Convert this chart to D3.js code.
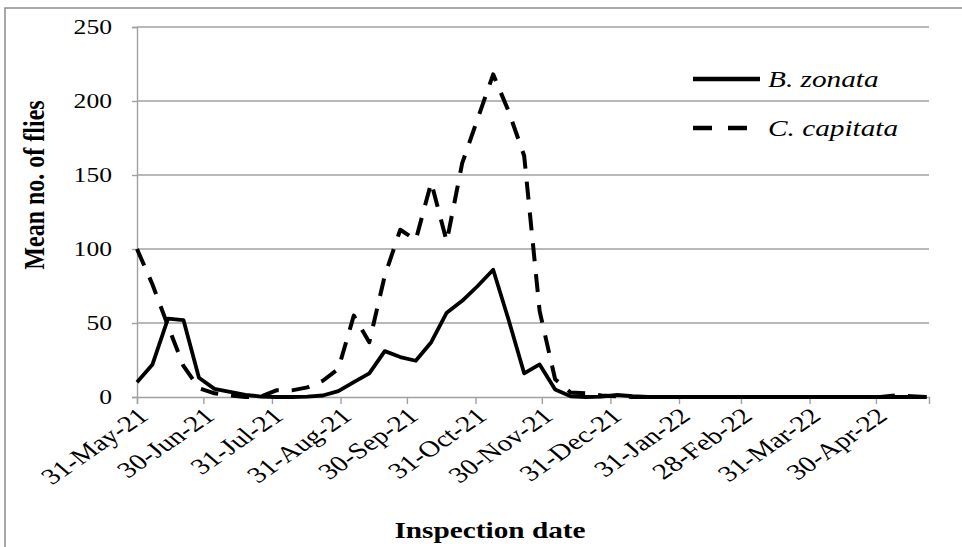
<!DOCTYPE html>
<html>
<head>
<meta charset="utf-8">
<script src="https://cdn.jsdelivr.net/npm/d3@7"></script>
<style>
  html, body { margin: 0; padding: 0; background: #fff; }
  svg { display: block; }
  text { font-family: "Liberation Serif", "Times New Roman", serif; fill: #000; }
</style>
</head>
<body>
<svg id="chart" width="962" height="547"></svg>
<script>
// ---- data ----
const inspectionDates = [
  "2021-05-31","2021-06-07","2021-06-14","2021-06-21","2021-06-28","2021-07-05","2021-07-12","2021-07-19",
  "2021-07-26","2021-08-02","2021-08-09","2021-08-16","2021-08-23","2021-08-30","2021-09-06","2021-09-13",
  "2021-09-20","2021-09-27","2021-10-04","2021-10-11","2021-10-18","2021-10-25","2021-11-01","2021-11-08",
  "2021-11-15","2021-11-22","2021-11-29","2021-12-06","2021-12-13","2021-12-20","2021-12-27","2022-01-03",
  "2022-01-10","2022-01-17","2022-01-24","2022-01-31","2022-02-07","2022-02-14","2022-02-21","2022-02-28",
  "2022-03-07","2022-03-14","2022-03-21","2022-03-28","2022-04-04","2022-04-11","2022-04-18","2022-04-25",
  "2022-05-02","2022-05-09","2022-05-16","2022-05-23"
];
const bZonata = [
  10, 22, 53, 52, 13, 5.5, 3.5, 1.5, 0.3, 0, 0, 0.3, 1, 4, 10, 16,
  31, 27, 24.5, 37, 57, 65, 75, 86, 52, 16, 22, 5, 0.5, 0, 0.3, 1.5,
  0.5, 0, 0, 0, 0, 0, 0, 0, 0, 0, 0, 0, 0, 0, 0, 0,
  0, 0, 0, 0
];
const cCapitata = [
  100, 76, 48, 21, 6, 2.5, 1, 0, 0.3, 4.5, 4.5, 6.5, 11, 19, 55, 37,
  82, 113, 106, 145, 105, 158, 188, 218, 193, 163, 58, 12, 3, 2.5, 1, 0.5,
  0, 0, 0, 0, 0, 0, 0, 0, 0, 0, 0, 0, 0, 0, 0, 0,
  0, 1, 0.5, 0
];
const xTickDates = ["2021-05-31","2021-06-30","2021-07-31","2021-08-31","2021-09-30","2021-10-31",
  "2021-11-30","2021-12-31","2022-01-31","2022-02-28","2022-03-31","2022-04-30"];
const yTicks = [0, 50, 100, 150, 200, 250];
const seriesNames = ["B. zonata", "C. capitata"];
const xTitle = "Inspection date";
const yTitle = "Mean no. of flies";

// ---- layout ----
const SX = 1.22; // horizontal text stretch of the original figure
const parse = d3.timeParse("%Y-%m-%d");
const fmt = d3.timeFormat("%d-%b-%y");
const svg = d3.select("#chart");

const x = d3.scaleTime()
  .domain([parse("2021-05-31"), parse("2022-05-24")])
  .range([137, 929]);
const y = d3.scaleLinear().domain([0, 250]).range([397, 27]);

// outer border
svg.append("path")
  .attr("d", "M5,547 L5,8 L962,8")
  .attr("fill", "none").attr("stroke", "#8c8c8c").attr("stroke-width", 1.5);

// gridlines
svg.append("g").selectAll("line").data(yTicks.filter(d => d > 0)).join("line")
  .attr("x1", x.range()[0]).attr("x2", x.range()[1])
  .attr("y1", d => y(d)).attr("y2", d => y(d))
  .attr("stroke", "#a0a0a0").attr("stroke-width", 1.4);

// y axis
const yAxis = svg.append("g").attr("transform", `translate(${x.range()[0]},0)`)
  .call(d3.axisLeft(y).tickValues(yTicks).tickSize(5).tickFormat(d3.format("d")));
yAxis.select(".domain").attr("stroke", "#a0a0a0").attr("stroke-width", 1.4);
yAxis.selectAll(".tick line").attr("stroke", "#a0a0a0").attr("stroke-width", 1.4);
yAxis.selectAll(".tick text").remove();
svg.append("g").selectAll("text").data(yTicks).join("text")
  .attr("transform", d => `translate(112,${y(d)}) scale(${SX},1)`)
  .attr("text-anchor", "end").attr("dy", "0.35em")
  .style("font-size", "21px")
  .text(d => d);

// x axis
const xAxis = svg.append("g").attr("transform", `translate(0,${y(0)})`)
  .call(d3.axisBottom(x).tickValues(xTickDates.map(parse)).tickSize(7).tickFormat(""));
xAxis.select(".domain").attr("stroke", "#a0a0a0").attr("stroke-width", 1.4);
xAxis.selectAll(".tick line").attr("stroke", "#a0a0a0").attr("stroke-width", 1.4);
svg.append("g").selectAll("text").data(xTickDates).join("text")
  .attr("transform", d => `translate(${x(parse(d)) + 6},${y(0) + 15}) scale(1.3,1) rotate(-42)`)
  .attr("text-anchor", "end").attr("dy", "0.35em")
  .style("font-size", "22.5px")
  .text(d => fmt(parse(d)));

// lines
const pts = vals => vals.map((v, i) => [parse(inspectionDates[i]), v]);
const line = d3.line().x(d => x(d[0])).y(d => y(d[1]));
svg.append("path").datum(pts(cCapitata))
  .attr("d", line).attr("fill", "none").attr("stroke", "#000")
  .attr("stroke-width", 4).attr("stroke-dasharray", "18,13").attr("stroke-linejoin", "round");
svg.append("path").datum(pts(bZonata))
  .attr("d", line).attr("fill", "none").attr("stroke", "#000")
  .attr("stroke-width", 3.8).attr("stroke-linejoin", "round");

// legend
const legend = svg.append("g");
const legY = [79, 128];
legend.selectAll("line").data(seriesNames).join("line")
  .attr("x1", 693).attr("x2", (d, i) => i === 0 ? 760 : 750)
  .attr("y1", (d, i) => legY[i]).attr("y2", (d, i) => legY[i])
  .attr("stroke", "#000").attr("stroke-width", 4.4)
  .attr("stroke-dasharray", (d, i) => i === 0 ? null : "19,16");
legend.selectAll("text").data(seriesNames).join("text")
  .attr("transform", (d, i) => `translate(768,${legY[i]}) scale(${SX},1)`)
  .attr("dy", "0.33em")
  .style("font-size", "24px").style("font-style", "italic")
  .text(d => d);

// axis titles
svg.append("text")
  .attr("transform", `translate(490,538) scale(${SX},1)`)
  .attr("text-anchor", "middle")
  .style("font-size", "24px").style("font-weight", "bold")
  .text(xTitle);
svg.append("text")
  .attr("transform", `translate(44,185) scale(${SX},1) rotate(-90)`)
  .attr("text-anchor", "middle")
  .style("font-size", "24px").style("font-weight", "bold")
  .text(yTitle);
</script>
</body>
</html>
